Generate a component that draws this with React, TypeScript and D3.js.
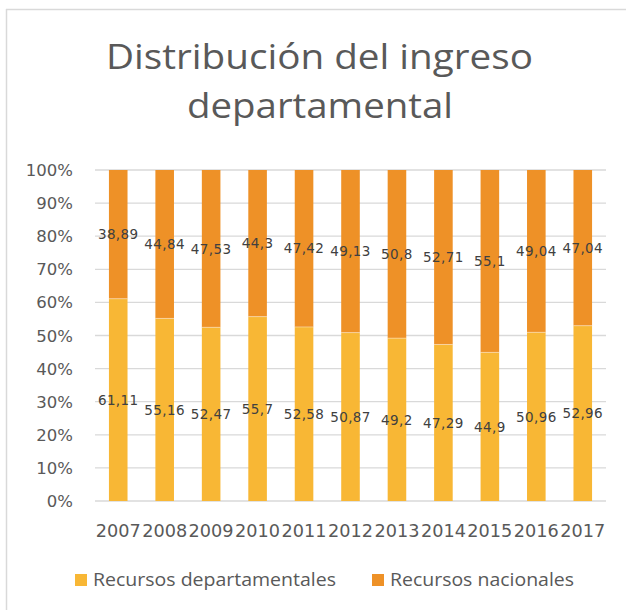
import React from "react";
import * as d3 from "d3";

const years = ["2007","2008","2009","2010","2011","2012","2013","2014","2015","2016","2017"];
const departamentales = [61.11,55.16,52.47,55.7,52.58,50.87,49.2,47.29,44.9,50.96,52.96];
const nacionales = [38.89,44.84,47.53,44.3,47.42,49.13,50.8,52.71,55.1,49.04,47.04];
const deptLabels = ["61,11","55,16","52,47","55,7","52,58","50,87","49,2","47,29","44,9","50,96","52,96"];
const nacLabels = ["38,89","44,84","47,53","44,3","47,42","49,13","50,8","52,71","55,1","49,04","47,04"];
const yTicks = [0,10,20,30,40,50,60,70,80,90,100];
const seriesNames = ["Recursos departamentales","Recursos nacionales"];
const colors = ["#F8B735","#EE9127"];

export default function App() {
  const W = 626, H = 610;
  const left = 95, right = 606, top = 170, bottom = 501;
  const x = d3.scaleBand<string>().domain(years).range([left, right]).paddingInner(0.6).paddingOuter(0.3);
  const y = d3.scaleLinear().domain([0, 100]).range([bottom, top]);
  const textFont = "'DejaVu Sans', sans-serif";
  const titleFont = "'Open Sans', sans-serif";
  return (
    <svg width={W} height={H} style={{ position: "absolute", left: 0, top: 0, background: "#fff" }}>
      <rect x={0} y={0} width={W} height={H} fill="#fff" />
      <line x1={6.5} y1={9} x2={6.5} y2={H} stroke="#D9D9D9" strokeWidth={1.5} />
      <line x1={6} y1={9.5} x2={W} y2={9.5} stroke="#D9D9D9" strokeWidth={1.5} />
      <text x={106} y={69} textLength={427} lengthAdjust="spacingAndGlyphs" fontFamily={titleFont} fontWeight={400} fontSize={35} fill="#595959">Distribución del ingreso</text>
      <text x={187} y={118} textLength={266} lengthAdjust="spacingAndGlyphs" fontFamily={titleFont} fontWeight={400} fontSize={35} fill="#595959">departamental</text>
      {yTicks.map((t) => (
        <g key={t}>
          <line x1={left} x2={right} y1={y(t)} y2={y(t)} stroke="#D9D9D9" strokeWidth={1.3} />
          <text x={73} y={y(t) + 6} textAnchor="end" fontFamily={textFont} fontSize={16.5} fill="#595959">{t}%</text>
        </g>
      ))}
      {years.map((yr, i) => {
        const bx = x(yr)!;
        const bw = x.bandwidth();
        const d = departamentales[i];
        const n = nacionales[i];
        const cx = bx + bw / 2;
        return (
          <g key={yr}>
            <rect x={bx} y={y(d)} width={bw} height={y(0) - y(d)} fill={colors[0]} />
            <rect x={bx} y={y(d + n)} width={bw} height={y(d) - y(d + n)} fill={colors[1]} />
            <line x1={bx} x2={bx + bw} y1={y(d)} y2={y(d)} stroke="#fff" strokeOpacity={0.5} strokeWidth={0.8} />
            <text x={cx} y={y(d / 2) + 5} textAnchor="middle" fontFamily={textFont} fontSize={13.5} letterSpacing={0.4} fill="#404040">{deptLabels[i]}</text>
            <text x={cx} y={y(d + n / 2) + 5} textAnchor="middle" fontFamily={textFont} fontSize={13.5} letterSpacing={0.4} fill="#404040">{nacLabels[i]}</text>
            <text x={cx - 22.5} y={537} textLength={45} lengthAdjust="spacingAndGlyphs" fontFamily={textFont} fontSize={17.5} fill="#595959">{yr}</text>
          </g>
        );
      })}
      <rect x={75} y={574} width={12} height={12} fill={colors[0]} />
      <text x={93} y={586} textLength={243} lengthAdjust="spacingAndGlyphs" fontFamily={titleFont} fontSize={18} fill="#595959">{seriesNames[0]}</text>
      <rect x={372} y={574} width={12} height={12} fill={colors[1]} />
      <text x={390} y={586} textLength={184} lengthAdjust="spacingAndGlyphs" fontFamily={titleFont} fontSize={18} fill="#595959">{seriesNames[1]}</text>
    </svg>
  );
}
